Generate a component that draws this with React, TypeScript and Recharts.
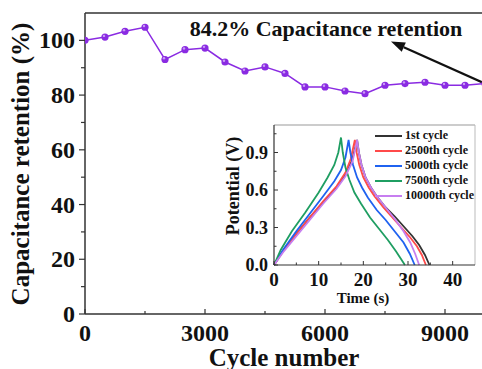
import { LineChart, Line, XAxis, YAxis, ReferenceLine } from 'recharts';

const CYCLES = [0, 500, 1000, 1500, 2000, 2500, 3000, 3500, 4000, 4500, 5000, 5500, 6000, 6500, 7000, 7500, 8000, 8500, 9000, 9500, 10000];
const RETENTION = [100, 101.2, 103.3, 104.8, 93.0, 96.6, 97.2, 92.1, 88.8, 90.3, 87.9, 83.0, 83.0, 81.5, 80.5, 83.6, 84.2, 84.7, 83.6, 83.6, 84.2];
const CYCLE_TICKS = [0, 1500, 3000, 4500, 6000, 7500, 9000];
const RETENTION_TICKS = [0, 10, 20, 30, 40, 50, 60, 70, 80, 90, 100];

const TIME_TICKS = [0, 5, 10, 15, 20, 25, 30, 35, 40];
const POTENTIAL_TICKS = [0, 0.15, 0.3, 0.45, 0.6, 0.75, 0.9, 1.05];

// GCD curves: [time s, potential V]
const CYCLE_1 = [[0, 0], [2, 0.11], [5, 0.25], [8, 0.38], [11, 0.5], [14, 0.62], [16, 0.72], [17.5, 0.84], [18.6, 1.0], [19.0, 0.9], [19.6, 0.8], [20.5, 0.7], [21.7, 0.62], [23, 0.55], [25, 0.46], [27, 0.39], [29, 0.31], [31, 0.23], [32.5, 0.16], [33.8, 0.08], [34.8, 0]];
const CYCLE_2500 = [[0, 0], [2, 0.11], [5, 0.25], [8, 0.38], [11, 0.51], [14, 0.63], [16, 0.74], [17.2, 0.85], [18.1, 1.0], [18.5, 0.9], [19.1, 0.8], [20, 0.7], [21.2, 0.62], [22.5, 0.55], [24.5, 0.46], [26.5, 0.38], [28.5, 0.3], [30.5, 0.22], [32, 0.15], [33.1, 0.08], [34, 0]];
const CYCLE_5000 = [[0, 0], [2, 0.12], [5, 0.27], [8, 0.41], [11, 0.55], [13.5, 0.67], [15, 0.76], [16, 0.86], [16.7, 1.0], [17.1, 0.9], [17.7, 0.8], [18.6, 0.7], [19.7, 0.62], [21, 0.54], [23, 0.44], [25, 0.36], [27, 0.27], [29, 0.18], [30.4, 0.09], [31.5, 0]];
const CYCLE_7500 = [[0, 0], [1.5, 0.12], [4, 0.27], [7, 0.42], [10, 0.58], [12, 0.7], [13.5, 0.8], [14.4, 0.9], [15, 1.02], [15.4, 0.9], [16, 0.78], [16.9, 0.68], [18, 0.58], [19.5, 0.49], [21.5, 0.38], [23.5, 0.29], [25.5, 0.2], [27.3, 0.11], [28.4, 0.05], [29.3, 0]];
const CYCLE_10000 = [[0, 0], [2, 0.1], [5, 0.23], [8, 0.36], [11, 0.49], [14, 0.61], [16, 0.71], [17.6, 0.83], [18.6, 1.0], [19, 0.9], [19.6, 0.8], [20.5, 0.7], [21.7, 0.62], [23, 0.55], [25, 0.46], [27, 0.37], [29, 0.27], [30.5, 0.18], [31.6, 0.09], [32.5, 0]];

const SERIES = [
  { name: '1st cycle', color: '#333333', points: CYCLE_1 },
  { name: '2500th cycle', color: '#ff4a4a', points: CYCLE_2500 },
  { name: '5000th cycle', color: '#1f62f0', points: CYCLE_5000 },
  { name: '7500th cycle', color: '#1f9e62', points: CYCLE_7500 },
  { name: '10000th cycle', color: '#c77ef0', points: CYCLE_10000 },
];

const retention = CYCLES.map((c, i) => ({ cycle: c, value: RETENTION[i] }));

const FONT = '"Liberation Serif", "Times New Roman", serif';
const AXIS = '#333';
const PURPLE = '#8a2be2';

function MainXTick(props: any) {
  const { x, y, payload } = props;
  const major = payload.value % 3000 === 0;
  return (
    <g>
      <line x1={x} x2={x} y1={y} y2={y - (major ? 5 : 3)} stroke={AXIS} strokeWidth={1.2} />
      {major && (
        <text x={x} y={y + 19} textAnchor="middle" dominantBaseline="central" fontSize={24} fontWeight="bold" fontFamily={FONT} fill="#111">
          {payload.value}
        </text>
      )}
    </g>
  );
}

function MainYTick(props: any) {
  const { x, y, payload } = props;
  const major = payload.value % 20 === 0;
  return (
    <g>
      <line x1={x} x2={x - (major ? 6 : 4)} y1={y} y2={y} stroke={AXIS} strokeWidth={1.2} />
      {major && (
        <text x={x - 10} y={y} textAnchor="end" dominantBaseline="central" fontSize={24} fontWeight="bold" fontFamily={FONT} fill="#111">
          {payload.value}
        </text>
      )}
    </g>
  );
}

function InsetXTick(props: any) {
  const { x, y, payload } = props;
  const major = payload.value % 10 === 0;
  return (
    <g>
      <line x1={x} x2={x} y1={y} y2={y - (major ? 4 : 2.5)} stroke={AXIS} strokeWidth={1} />
      {major && (
        <text x={x} y={y + 14} textAnchor="middle" dominantBaseline="central" fontSize={19} fontWeight="bold" fontFamily={FONT} fill="#111">
          {payload.value}
        </text>
      )}
    </g>
  );
}

function InsetYTick(props: any) {
  const { x, y, payload } = props;
  const major = Math.round(payload.value / 0.15) % 2 === 0;
  return (
    <g>
      <line x1={x} x2={x + (major ? 4 : 2.5)} y1={y} y2={y} stroke={AXIS} strokeWidth={1} />
      {major && (
        <text x={x - 6} y={y} textAnchor="end" dominantBaseline="central" fontSize={18} fontWeight="bold" fontFamily={FONT} fill="#111">
          {payload.value.toFixed(1)}
        </text>
      )}
    </g>
  );
}

function Bead(props: any) {
  const { cx, cy, index } = props;
  if (cx == null || cy == null) return <g key={index} />;
  return (
    <g key={index}>
      <circle cx={cx} cy={cy} r={3.6} fill={PURPLE} />
      <circle cx={cx - 1} cy={cy - 1.2} r={1.2} fill="#c99bf5" />
    </g>
  );
}

function Arrow(props: any) {
  const { x1, y1, x2, y2 } = props;
  const ang = Math.atan2(y2 - y1, x2 - x1);
  const len = 14;
  const half = 5;
  const bx = x2 - len * Math.cos(ang);
  const by = y2 - len * Math.sin(ang);
  const px = -Math.sin(ang) * half;
  const py = Math.cos(ang) * half;
  return (
    <g>
      <line x1={x1} y1={y1} x2={bx} y2={by} stroke="#111" strokeWidth={2.2} />
      <polygon points={`${x2},${y2} ${bx + px},${by + py} ${bx - px},${by - py}`} fill="#111" />
    </g>
  );
}

function InsetLegend() {
  return (
    <div style={{ position: 'absolute', left: 375, top: 128, fontFamily: FONT, fontWeight: 'bold', fontSize: 12, color: '#111', lineHeight: '15px' }}>
      {SERIES.map((s) => (
        <div key={s.name} style={{ display: 'flex', alignItems: 'center', height: 15 }}>
          <span style={{ display: 'inline-block', width: 27, height: 2, background: s.color, marginRight: 3 }} />
          <span>{s.name}</span>
        </div>
      ))}
    </div>
  );
}

export default function App() {
  return (
    <div style={{ position: 'relative', width: 482, height: 369, background: '#fff', overflow: 'hidden' }}>
      <style>{'body{margin:0}'}</style>
      <LineChart width={482} height={369} data={retention} margin={{ top: 13, right: 0, bottom: 0, left: 0 }}>
        <XAxis
          dataKey="cycle"
          type="number"
          domain={[0, 9925]}
          allowDataOverflow
          ticks={CYCLE_TICKS}
          interval={0}
          tick={<MainXTick />}
          tickLine={false}
          tickSize={0}
          tickMargin={0}
          height={55}
          axisLine={{ stroke: AXIS, strokeWidth: 1.5 }}
          label={{
            content: () => (
              <text x={284} y={357} textAnchor="middle" dominantBaseline="central" fontSize={25} fontWeight="bold" fontFamily={FONT} fill="#111">
                Cycle number
              </text>
            ),
          }}
        />
        <YAxis
          type="number"
          domain={[0, 110]}
          ticks={RETENTION_TICKS}
          interval={0}
          tick={<MainYTick />}
          tickLine={false}
          tickSize={0}
          tickMargin={0}
          width={85}
          axisLine={{ stroke: AXIS, strokeWidth: 1.5 }}
          label={{
            content: () => (
              <text x={20} y={164} transform="rotate(-90 20 164)" textAnchor="middle" dominantBaseline="central" fontSize={25} fontWeight="bold" fontFamily={FONT} fill="#111">
                Capacitance retention (%)
              </text>
            ),
          }}
        />
        <ReferenceLine y={110} stroke={AXIS} strokeWidth={1.5} />
        <ReferenceLine
          segment={[{ x: 10000, y: 84.2 }, { x: 7650, y: 99.6 }]}
          ifOverflow="visible"
          shape={Arrow}
          label={{
            content: () => (
              <text x={326} y={28} textAnchor="middle" dominantBaseline="central" fontSize={22} fontWeight="bold" fontFamily={FONT} fill="#111">
                84.2% Capacitance retention
              </text>
            ),
          }}
        />
        <Line
          dataKey="value"
          stroke={PURPLE}
          strokeWidth={1.5}
          dot={<Bead />}
          isAnimationActive={false}
        />
      </LineChart>

      <div style={{ position: 'absolute', left: 218, top: 110 }}>
        <LineChart width={264} height={200} margin={{ top: 15, right: 7, bottom: 0, left: 0 }}>
          <XAxis
            dataKey="t"
            type="number"
            domain={[0, 45]}
            ticks={TIME_TICKS}
            interval={0}
            tick={<InsetXTick />}
            tickLine={false}
            tickSize={0}
            tickMargin={0}
            height={45}
            axisLine={{ stroke: AXIS, strokeWidth: 1.2 }}
            label={{
              content: () => (
                <text x={145} y={188} textAnchor="middle" dominantBaseline="central" fontSize={15} fontWeight="bold" fontFamily={FONT} fill="#111">
                  Time (s)
                </text>
              ),
            }}
          />
          <YAxis
            type="number"
            domain={[0, 1.12]}
            ticks={POTENTIAL_TICKS}
            interval={0}
            tick={<InsetYTick />}
            tickLine={false}
            tickSize={0}
            tickMargin={0}
            width={56}
            axisLine={{ stroke: AXIS, strokeWidth: 1.2 }}
            label={{
              content: () => (
                <text x={15} y={76} transform="rotate(-90 15 76)" textAnchor="middle" dominantBaseline="central" fontSize={18} fontWeight="bold" fontFamily={FONT} fill="#111">
                  Potential (V)
                </text>
              ),
            }}
          />
          <ReferenceLine y={1.12} stroke="#999" strokeWidth={1} />
          <ReferenceLine x={45} stroke="#bbb" strokeWidth={1} />
          {SERIES.map((s) => (
            <Line
              key={s.name}
              name={s.name}
              data={s.points.map(([t, v]) => ({ t, v }))}
              dataKey="v"
              stroke={s.color}
              strokeWidth={1.8}
              dot={false}
              isAnimationActive={false}
            />
          ))}
        </LineChart>
      </div>
      <InsetLegend />
    </div>
  );
}
